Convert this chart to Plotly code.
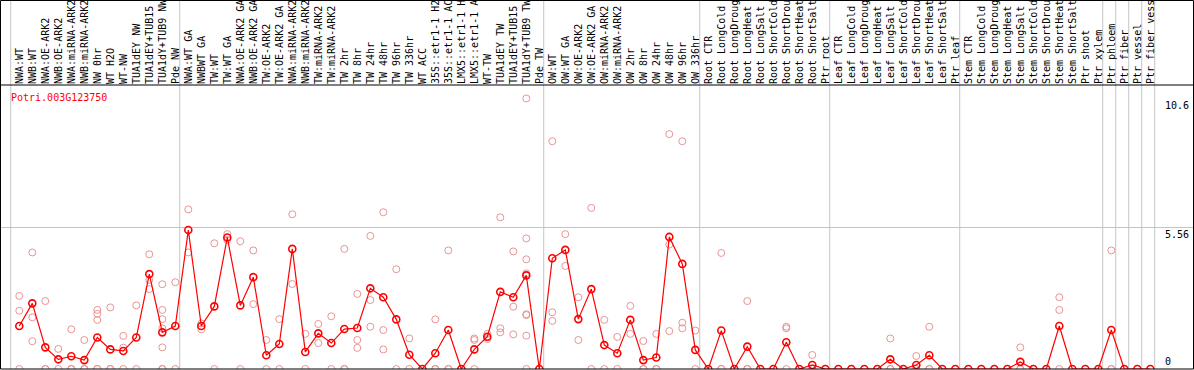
import plotly.graph_objects as go

gene = "Potri.003G123750"

labels = [
    "NWA:WT", "NWB:WT", "NWA:OE-ARK2", "NWB:OE-ARK2", "NWA:miRNA-ARK2", "NWB:miRNA-ARK2",
    "NW 0hr", "WT H2O", "WT-NW", "TUA1dEY NW", "TUA1dEY+TUB15", "TUA1dY+TUB9 NW", "Pde NW",
    "NWA:WT GA", "NWBWT GA", "TW:WT", "TW:WT GA", "NWA:OE-ARK2 GA", "NWB:OE-ARK2 GA",
    "TW:OE-ARK2", "TW:OE-ARK2 GA", "NWA:miRNA-ARK2", "NWB:miRNA-ARK2", "TW:miRNA-ARK2",
    "TW:miRNA-ARK2", "TW 2hr", "TW 8hr", "TW 24hr", "TW 48hr", "TW 96hr", "TW 336hr",
    "WT ACC", "35S::etr1-1 H2", "35S::etr1-1 AC", "LMX5::etr1-1 H", "LMX5::etr1-1 A",
    "WT-TW", "TUA1dEY TW", "TUA1dEY+TUB15", "TUA1dY+TUB9 TW", "Pde TW",
    "OW:WT", "OW:WT GA", "OW:OE-ARK2", "OW:OE-ARK2 GA", "OW:miRNA-ARK2", "OW:miRNA-ARK2",
    "OW 2hr", "OW 8hr", "OW 24hr", "OW 48hr", "OW 96hr", "OW 336hr",
    "Root CTR", "Root LongCold", "Root LongDroug", "Root LongHeat", "Root LongSalt",
    "Root ShortCold", "Root ShortDrou", "Root ShortHeat", "Root ShortSalt", "Ptr root",
    "Leaf CTR", "Leaf LongCold", "Leaf LongDroug", "Leaf LongHeat", "Leaf LongSalt",
    "Leaf ShortCold", "Leaf ShortDrou", "Leaf ShortHeat", "Leaf ShortSalt", "Ptr leaf",
    "Stem CTR", "Stem LongCold", "Stem LongDroug", "Stem LongHeat", "Stem LongSalt",
    "Stem ShortCold", "Stem ShortDrou", "Stem ShortHeat", "Stem ShortSalt", "Ptr shoot",
    "Ptr xylem", "Ptr phloem", "Ptr fiber", "Ptr vessel", "Ptr fiber vess",
]

means = [
    1.69, 2.58, 0.85, 0.38, 0.50, 0.35, 1.24, 0.77, 0.71, 1.24, 3.73, 1.44, 1.69,
    5.46, 1.69, 2.46, 5.17, 2.50, 3.61, 0.54, 0.98, 4.72, 0.67, 1.40, 1.02, 1.57,
    1.61, 3.17, 2.82, 1.95, 0.56, 0.0, 0.62, 1.53, 0.0, 0.77, 1.27, 3.03, 2.82,
    3.68, 0.0,
    4.35, 4.68, 1.96, 3.14, 0.94, 0.62, 1.93, 0.35, 0.45, 5.19, 4.13, 0.75,
    0.0, 1.51, 0.0, 0.88, 0.0, 0.0, 1.05, 0.0, 0.16, 0.0,
    0.0, 0.0, 0.0, 0.0, 0.38, 0.0, 0.16, 0.54, 0.0, 0.0,
    0.0, 0.0, 0.0, 0.0, 0.28, 0.0, 0.0, 1.69, 0.0, 0.0, 0.0,
    1.53, 0.0, 0.0, 0.0,
]

replicates = [
    [2.87, 2.29, 0], [4.58, 2.03, 1.09], [2.67, 0, 0], [0.79, 0], [1.56, 0, 0],
    [1.14, 0, 0], [2.32, 2.17, 1.93, 0, 0], [2.42, 0, 0], [1.30, 0.84, 0], [2.50, 0],
    [4.51, 3.50, 3.14], [3.33, 2.32, 1.96, 1.60, 0.85, 0, 0], [3.41, 0],
    [6.27, 4.58], [1.79, 1.56], [4.94, 0], [5.30, 5.07], [5.02, 0], [4.66, 2.55],
    [1.14, 0], [1.96, 0], [6.08, 3.34], [1.38, 0], [1.77, 1.02], [2.07, 0],
    [4.72, 0, 0], [2.95, 1.14, 0.83], [5.23, 2.71, 1.66], [6.16, 1.53, 0.77],
    [3.92, 0], [1.20, 0], [], [1.95, 0, 0], [4.66, 0, 0], [], [1.20, 1.14, 0],
    [1.38, 1.25, 1.18], [5.96, 1.60, 1.44], [4.62, 2.45, 1.36],
    [10.63, 5.13, 4.31, 3.76, 2.15, 2.12, 1.31, 0], [],
    [8.95, 2.23, 1.89], [5.30, 4.05], [2.82, 1.14], [6.33, 0], [1.93, 0], [1.26, 0],
    [2.48, 1.38], [1.10, 0, 0], [1.38, 0, 0], [9.23, 4.89, 1.49], [8.95, 1.82, 1.60],
    [1.51, 0],
    [], [4.56, 0, 0], [], [2.67, 0, 0], [], [], [1.66, 1.60, 0], [], [0.55, 0, 0], [],
    [], [], [], [], [1.20, 0, 0], [], [0.51, 0, 0], [1.66, 0, 0], [], [],
    [], [], [], [], [0.85, 0, 0], [], [], [2.82, 2.32, 0], [], [], [],
    [4.66, 0, 0], [], [], [],
]

group_starts = [0, 13, 41, 53, 63, 73, 84, 85, 86, 87, 88]
y_ticks = [10.6, 5.56, 0]
y_grid = [5.56]

W, H = 1194, 370
ML, MR, MT, MB = 1, 1, 85, 1
plot_w = W - ML - MR
plot_h = H - MT - MB
step = 13.0
first_px = 19.3
x_lo = (ML - first_px) / step
x_hi = (ML + plot_w - first_px) / step
y_top = 11.16
top_paper = 1 + (MT - 0.5) / plot_h

cats = list(range(len(labels)))
rep_x, rep_y = [], []
for i, vals in enumerate(replicates):
    for v in vals:
        rep_x.append(i)
        rep_y.append(v)

mono = "DejaVu Sans Mono"
fig = go.Figure()
fig.add_trace(go.Scatter(
    x=rep_x, y=rep_y, mode="markers",
    marker=dict(symbol="circle-open", size=7, color="#E89494", line=dict(width=1)),
    hoverinfo="y", showlegend=False,
))
fig.add_trace(go.Scatter(
    x=cats, y=means, mode="lines+markers",
    line=dict(color="#FF0000", width=1.2),
    marker=dict(symbol="circle-open", size=7, color="#FF0000", line=dict(width=1.6)),
    showlegend=False,
))

shapes = []
for g in group_starts:
    shapes.append(dict(type="line", xref="x", yref="paper", x0=g - 0.66, x1=g - 0.66,
                       y0=0, y1=top_paper, line=dict(color="#C4C4C4", width=1), layer="below"))
shapes.append(dict(type="rect", xref="paper", yref="paper", x0=-0.5 / plot_w, x1=1 + 0.5 / plot_w,
                   y0=0, y1=top_paper, line=dict(color="black", width=1)))
shapes.append(dict(type="line", xref="paper", yref="paper", x0=-0.5 / plot_w, x1=1 + 0.5 / plot_w,
                   y0=1, y1=1, line=dict(color="black", width=1)))

annotations = [dict(
    text=gene, xref="paper", yref="paper", x=(9 - ML) / plot_w, y=1,
    xanchor="left", yanchor="top", yshift=-5, showarrow=False,
    font=dict(family=mono, size=10, color="#FF0000"),
)]
for t in y_ticks:
    annotations.append(dict(
        text=("%g" % t), xref="paper", yref="y", x=(1164 - ML) / plot_w, y=t,
        xanchor="left", yanchor=("bottom" if t == 0 else "top"),
        yshift=(1 if t == 0 else 0), showarrow=False, borderpad=0,
        font=dict(family=mono, size=10, color="black"),
    ))

fig.update_layout(
    width=W, height=H,
    margin=dict(l=ML, r=MR, t=MT, b=MB, pad=0),
    paper_bgcolor="white", plot_bgcolor="white",
    shapes=shapes, annotations=annotations,
    xaxis=dict(
        side="top", range=[x_lo, x_hi], tickmode="array", tickvals=cats, ticktext=labels,
        tickangle=-90, tickfont=dict(family=mono, size=10, color="black"),
        ticks="", showgrid=False, zeroline=False, showline=False, automargin=False,
        fixedrange=True,
    ),
    yaxis=dict(
        range=[0, y_top], tickmode="array", tickvals=y_grid, showticklabels=False,
        showgrid=True, gridcolor="#C4C4C4", gridwidth=1, zeroline=False, showline=False,
        ticks="", automargin=False, fixedrange=True,
    ),
)

fig.write_html(
    "out.html",
    config={"displayModeBar": False},
    post_script="document.body.style.margin='0';document.body.style.padding='0';"
                "document.body.style.overflow='hidden';",
)
